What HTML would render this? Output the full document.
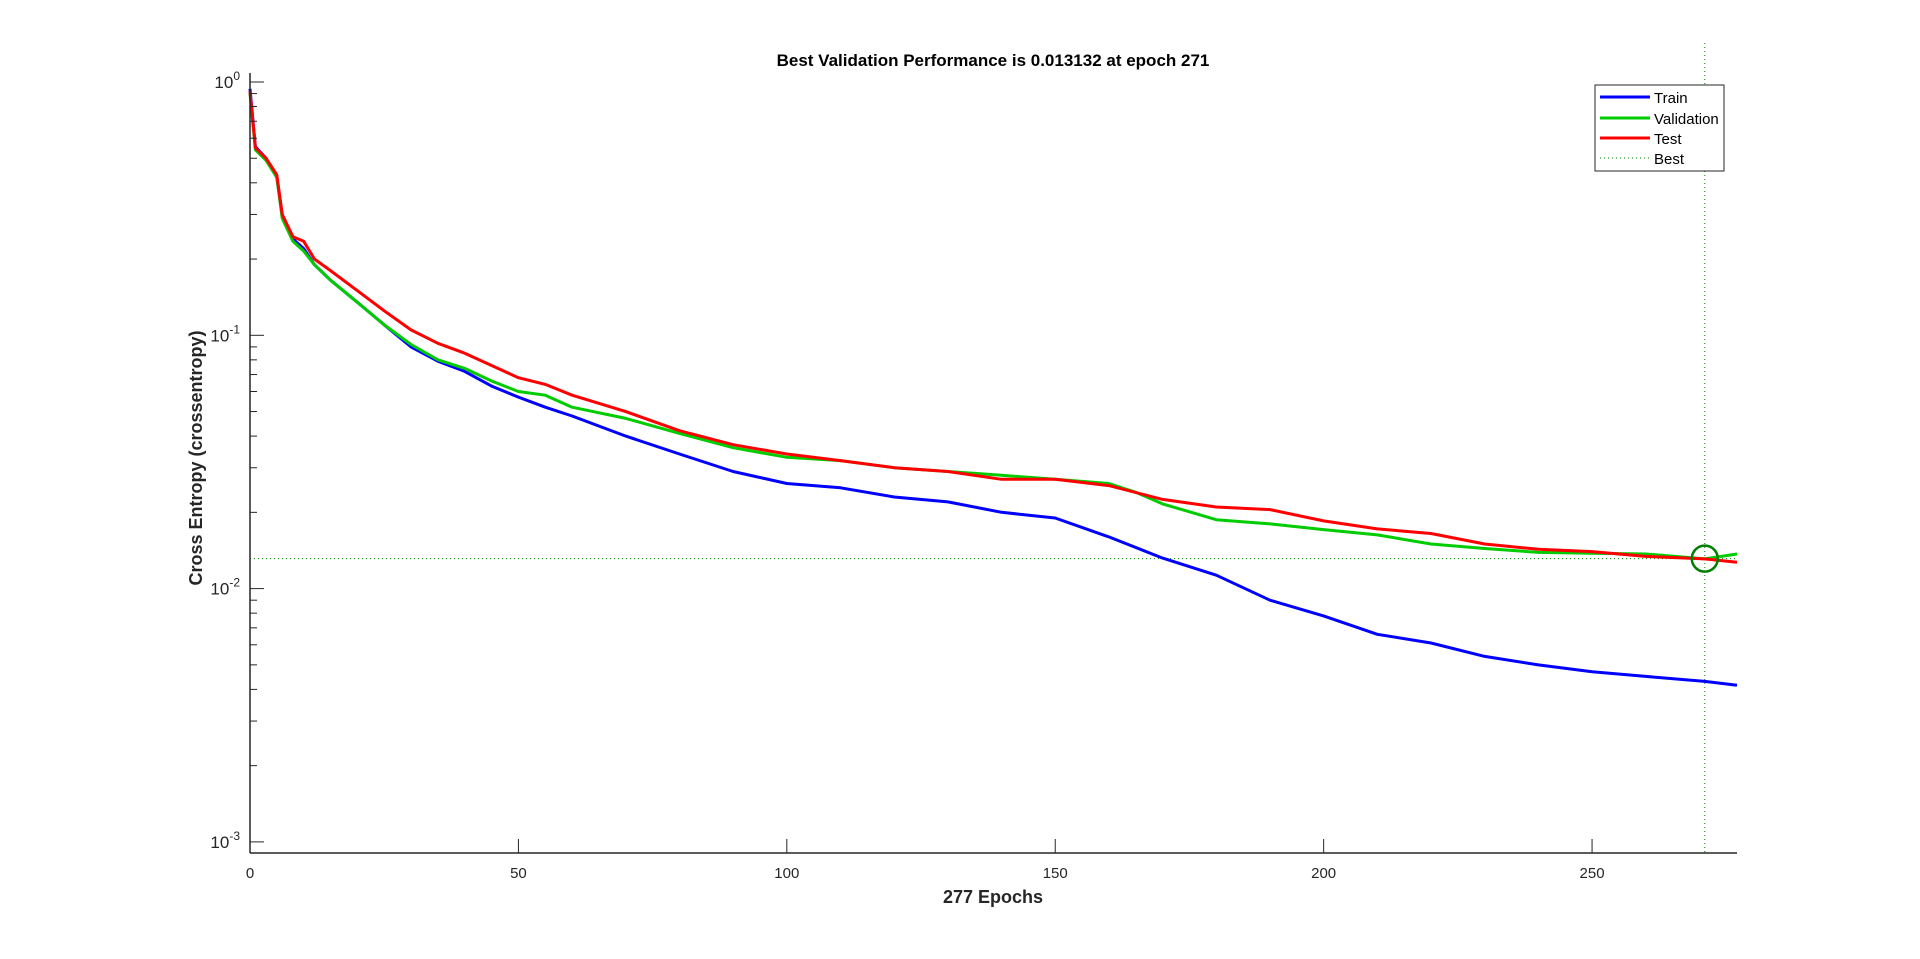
<!DOCTYPE html>
<html><head><meta charset="utf-8"><style>
html,body{margin:0;padding:0;background:#fff;}
svg{display:block;font-family:"Liberation Sans",Arial,sans-serif;}
</style></head><body>
<svg id="chart" width="1920" height="959" xmlns="http://www.w3.org/2000/svg">
<rect x="0" y="0" width="1920" height="959" fill="#fff"/>
<g id="grid"></g>
<g id="series"></g>
<g id="axes"></g>
<text x="993" y="66" text-anchor="middle" font-size="17" font-weight="bold" fill="#000">Best Validation Performance is 0.013132 at epoch 271</text>
<text x="993" y="903" text-anchor="middle" font-size="18" font-weight="bold" fill="#262626">277 Epochs</text>
<text transform="translate(202,458) rotate(-90)" text-anchor="middle" font-size="18" font-weight="bold" fill="#262626">Cross Entropy  (crossentropy)</text>
<g>
<rect x="1595" y="85" width="129" height="86" fill="#fff" stroke="#262626" stroke-width="1"/>
<line x1="1600" y1="97" x2="1650" y2="97" stroke="#0000ff" stroke-width="3"/>
<text x="1654" y="103" font-size="15">Train</text>
<line x1="1600" y1="118" x2="1650" y2="118" stroke="#00cc00" stroke-width="3"/>
<text x="1654" y="124" font-size="15">Validation</text>
<line x1="1600" y1="138" x2="1650" y2="138" stroke="#ff0000" stroke-width="3"/>
<text x="1654" y="144" font-size="15">Test</text>
<line x1="1600" y1="158" x2="1650" y2="158" stroke="#008000" stroke-width="1" stroke-dasharray="1,3"/>
<text x="1654" y="164" font-size="15">Best</text>
</g>
</svg>
<script>
const trainEpochs=[0,1,3,5,6,8,10,12,15,20,25,30,35,40,45,50,55,60,70,80,90,100,110,120,130,140,150,160,170,180,190,200,210,220,230,240,250,260,271,277];
const trainValues=[0.94,0.555,0.50,0.42,0.30,0.24,0.22,0.19,0.165,0.135,0.11,0.090,0.079,0.072,0.063,0.057,0.052,0.048,0.040,0.034,0.029,0.026,0.025,0.023,0.022,0.020,0.019,0.016,0.0132,0.0113,0.0090,0.0078,0.0066,0.0061,0.0054,0.0050,0.0047,0.0045,0.0043,0.00415];
const valEpochs=[0,1,3,5,6,8,10,12,15,20,25,30,35,40,45,50,55,60,70,80,90,100,110,120,130,140,150,160,165,170,180,190,200,210,220,230,240,250,260,271,277];
const valValues=[0.9,0.54,0.49,0.42,0.29,0.235,0.215,0.19,0.165,0.135,0.11,0.092,0.080,0.074,0.066,0.060,0.058,0.052,0.047,0.041,0.036,0.033,0.032,0.030,0.029,0.028,0.027,0.026,0.024,0.0216,0.0187,0.018,0.0171,0.0163,0.0150,0.0144,0.0139,0.0138,0.0137,0.0131,0.0137];
const testEpochs=[0,1,3,5,6,8,10,12,15,20,25,30,35,40,45,50,55,60,70,80,90,100,110,120,130,140,150,160,170,180,190,200,210,220,230,240,250,260,271,277];
const testValues=[0.92,0.55,0.50,0.43,0.30,0.245,0.235,0.20,0.18,0.15,0.125,0.105,0.093,0.085,0.076,0.068,0.064,0.058,0.050,0.042,0.037,0.034,0.032,0.030,0.029,0.027,0.027,0.0255,0.0225,0.021,0.0205,0.0185,0.0172,0.0165,0.015,0.0143,0.014,0.0134,0.0131,0.0127];
const bestEpoch=271;
const bestValue=0.013132;
const xTicks=[0,50,100,150,200,250];
const yDecades=[-3,-2,-1,0];

const X0=250,X1=1737,XMAX=277,YTOP=73,YBOT=853;
const Y0=82,DEC=253.3;
const xs=e=>X0+e*(X1-X0)/XMAX;
const ys=v=>Y0-Math.log10(v)*DEC;
const NS='http://www.w3.org/2000/svg';
function mk(tag,attrs,parent){const el=document.createElementNS(NS,tag);for(const k in attrs)el.setAttribute(k,attrs[k]);parent.appendChild(el);return el;}
const axes=document.getElementById('axes'),series=document.getElementById('series'),grid=document.getElementById('grid');

// best lines
let bh=mk('line',{x1:X0,x2:X1,y1:ys(bestValue),y2:ys(bestValue),stroke:'#008000','stroke-width':1,'stroke-dasharray':'1,3'},grid);


let bv=mk('line',{x1:xs(bestEpoch),x2:xs(bestEpoch),y1:YTOP-30,y2:YBOT,stroke:'#008000','stroke-width':1,'stroke-dasharray':'1,3'},grid);



function line(ep,vals,color,name){
  const pts=ep.map((e,i)=>xs(e).toFixed(1)+','+ys(vals[i]).toFixed(1)).join(' ');
  const p=mk('polyline',{points:pts,fill:'none',stroke:color,'stroke-width':3,'stroke-linejoin':'round'},series);
  
  
}
line(trainEpochs,trainValues,'#0000ff','train-line');
line(valEpochs,valValues,'#00cc00','validation-line');
line(testEpochs,testValues,'#ff0000','test-line');
let c=mk('circle',{cx:xs(bestEpoch),cy:ys(bestValue),r:13,fill:'none',stroke:'#008000','stroke-width':2.5},series);



// axes
let ya=mk('line',{x1:X0,x2:X0,y1:YTOP,y2:YBOT,stroke:'#262626','stroke-width':1.5},axes);


let xa=mk('line',{x1:X0,x2:X1,y1:YBOT,y2:YBOT,stroke:'#262626','stroke-width':1.5},axes);


xTicks.forEach(t=>{
  const x=xs(t);
  mk('line',{x1:x,x2:x,y1:YBOT,y2:YBOT-14,stroke:'#262626','stroke-width':1},axes);
  const tx=mk('text',{x:x,y:YBOT+25,'text-anchor':'middle','font-size':15,fill:'#262626'},axes);
  tx.textContent=t;
  
  
});
yDecades.forEach(d=>{
  const y=ys(Math.pow(10,d));
  mk('line',{x1:X0,x2:X0+14,y1:y,y2:y,stroke:'#262626','stroke-width':1},axes);
  const tx=mk('text',{x:X0-10,y:y+6,'text-anchor':'end','font-size':17,fill:'#262626'},axes);
  
  
  tx.appendChild(document.createTextNode('10'));
  const sp=document.createElementNS(NS,'tspan');sp.setAttribute('dy','-8');sp.setAttribute('font-size','12');sp.textContent=String(d);tx.appendChild(sp);
  if(d<0){for(let m=2;m<=9;m++){const ym=ys(m*Math.pow(10,d));mk('line',{x1:X0,x2:X0+7,y1:ym,y2:ym,stroke:'#262626','stroke-width':1},axes);}}
});
</script>
</body></html>
